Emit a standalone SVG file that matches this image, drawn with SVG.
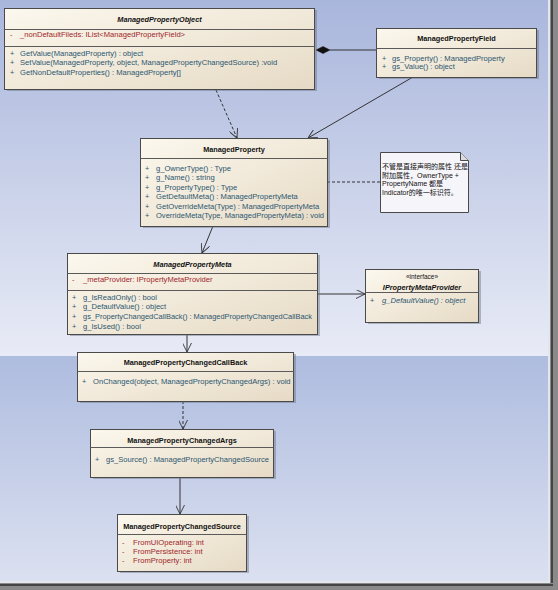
<svg xmlns="http://www.w3.org/2000/svg" width="558" height="590" viewBox="0 0 558 590">
<defs>
<linearGradient id="bgTop" x1="0" y1="0" x2="0" y2="1">
<stop offset="0" stop-color="#a9b6dc"/>
<stop offset="1" stop-color="#e8ebf6"/>
</linearGradient>
<linearGradient id="bgBot" x1="0" y1="0" x2="0" y2="1">
<stop offset="0" stop-color="#aebcdf"/>
<stop offset="1" stop-color="#dde2f1"/>
</linearGradient>
<linearGradient id="boxFill" x1="0" y1="0" x2="1" y2="1">
<stop offset="0" stop-color="#fcf8ee"/>
<stop offset="1" stop-color="#e6dac5"/>
</linearGradient>
<marker id="open" viewBox="0 0 10 10" refX="10" refY="5" markerWidth="9" markerHeight="9" orient="auto" markerUnits="userSpaceOnUse">
<path d="M0,0 L10,5 L0,10" fill="none" stroke="#333" stroke-width="1"/>
</marker>
<style>
.box{fill:url(#boxFill);stroke:#4a4a4a;stroke-width:1}
.shadow{fill:#6b7080;opacity:0.45}
.div{stroke:#5a5a5a;stroke-width:1}
.title{font-family:"Liberation Sans",Arial,sans-serif;font-size:7.3px;font-weight:bold;fill:#111;text-anchor:middle}
.ti{font-style:italic}
.mem{font-family:"Liberation Sans",Arial,sans-serif;font-size:7.6px;fill:#2a5670}
.attr{font-family:"Liberation Sans",Arial,sans-serif;font-size:7.6px;fill:#a0262a}
.vis{font-family:"Liberation Sans",Arial,sans-serif;font-size:7.3px;fill:#2a5670}
.visr{font-family:"Liberation Sans",Arial,sans-serif;font-size:7.3px;fill:#a0262a}
.ster{font-family:"Liberation Sans",Arial,sans-serif;font-size:6.5px;fill:#111;text-anchor:middle}
.note{font-family:"Liberation Sans","Noto Sans CJK SC",sans-serif;font-size:7px;fill:#111}
.line{stroke:#333;stroke-width:1;fill:none}
.dash{stroke:#333;stroke-width:1;fill:none;stroke-dasharray:3,2}
</style>
</defs>

<!-- background -->
<rect x="0" y="0" width="558" height="356" fill="url(#bgTop)"/>
<rect x="0" y="356" width="558" height="234" fill="url(#bgBot)"/>
<!-- frame shadow -->
<rect x="548" y="0" width="2" height="585" fill="#e4e6ee"/>
<rect x="550" y="0" width="8" height="590" fill="#8a8a8a"/>
<rect x="551" y="0" width="2" height="586" fill="#444"/>
<rect x="0" y="581" width="550" height="2" fill="#e4e6ee"/>
<rect x="0" y="583" width="558" height="7" fill="#8a8a8a"/>
<rect x="0" y="584" width="553" height="2" fill="#444"/>

<g id="connectors">
<!-- composition Object - Field -->
<line class="line" x1="330" y1="50" x2="376" y2="50"/>
<path d="M316,50 L323,46.5 L330,50 L323,53.5 Z" fill="#111" stroke="#111" stroke-width="0.5"/>
<!-- Field -> ManagedProperty -->
<line class="line" x1="413" y1="77" x2="308" y2="138" marker-end="url(#open)"/>
<!-- Object ..> ManagedProperty -->
<line class="dash" x1="216" y1="90" x2="237" y2="138" marker-end="url(#open)"/>
<!-- ManagedProperty .. note -->
<line class="dash" x1="327" y1="182" x2="380" y2="182"/>
<!-- ManagedProperty -> Meta -->
<line class="line" x1="213" y1="226" x2="202" y2="253" marker-end="url(#open)"/>
<!-- Meta -> IPropertyMetaProvider -->
<line class="line" x1="317" y1="294" x2="365" y2="294" marker-end="url(#open)"/>
<!-- Meta -> CallBack -->
<line class="line" x1="187" y1="334" x2="187" y2="352" marker-end="url(#open)"/>
<!-- CallBack ..> Args -->
<line class="dash" x1="183" y1="401" x2="183" y2="429" marker-end="url(#open)"/>
<!-- Args -> Source -->
<line class="line" x1="180" y1="478" x2="180" y2="514" marker-end="url(#open)"/>
</g>

<g id="ManagedPropertyObject">
<rect class="shadow" x="7" y="10" width="310" height="81"/>
<rect class="box" x="4.5" y="8.5" width="310" height="81"/>
<line class="div" x1="4.5" y1="29.5" x2="314.5" y2="29.5"/>
<line class="div" x1="4.5" y1="46.5" x2="314.5" y2="46.5"/>
<text class="title ti" x="159.5" y="22">ManagedPropertyObject</text>
<text class="visr" x="10" y="37">-</text>
<text class="attr" x="20" y="37">_nonDefaultFileds: IList&lt;ManagedPropertyField&gt;</text>
<text class="vis" x="10" y="56">+</text>
<text class="mem" x="20" y="56">GetValue(ManagedProperty) : object</text>
<text class="vis" x="10" y="65">+</text>
<text class="mem" x="20" y="65">SetValue(ManagedProperty, object, ManagedPropertyChangedSource) :void</text>
<text class="vis" x="10" y="74.5">+</text>
<text class="mem" x="20" y="74.5">GetNonDefaultProperties() : ManagedProperty[]</text>
</g>

<g id="ManagedPropertyField">
<rect class="shadow" x="379" y="30" width="160" height="49"/>
<rect class="box" x="376.5" y="28.5" width="160" height="49"/>
<line class="div" x1="376.5" y1="48.5" x2="536.5" y2="48.5"/>
<text class="title" x="456.5" y="41">ManagedPropertyField</text>
<text class="vis" x="382" y="60.5">+</text>
<text class="mem" x="392" y="60.5">gs_Property() : ManagedProperty</text>
<text class="vis" x="382" y="69">+</text>
<text class="mem" x="392" y="69">gs_Value() : object</text>
</g>

<g id="ManagedProperty">
<rect class="shadow" x="143" y="140" width="187" height="88"/>
<rect class="box" x="140.5" y="138.5" width="187" height="88"/>
<line class="div" x1="140.5" y1="158.5" x2="327.5" y2="158.5"/>
<text class="title" x="234" y="151.5">ManagedProperty</text>
<text class="vis" x="145" y="170.5">+</text>
<text class="mem" x="156" y="170.5">g_OwnerType() : Type</text>
<text class="vis" x="145" y="180">+</text>
<text class="mem" x="156" y="180">g_Name() : string</text>
<text class="vis" x="145" y="189.5">+</text>
<text class="mem" x="156" y="189.5">g_PropertyType() : Type</text>
<text class="vis" x="145" y="199">+</text>
<text class="mem" x="156" y="199">GetDefaultMeta() : ManagedPropertyMeta</text>
<text class="vis" x="145" y="208.5">+</text>
<text class="mem" x="156" y="208.5">GetOverrideMeta(Type) : ManagedPropertyMeta</text>
<text class="vis" x="145" y="218">+</text>
<text class="mem" x="156" y="218" textLength="168" lengthAdjust="spacingAndGlyphs">OverrideMeta(Type, ManagedPropertyMeta) : void</text>
</g>

<g id="Note">
<path d="M380.5,152.5 L460.5,152.5 L468.5,160.5 L468.5,212.5 L380.5,212.5 Z" fill="#f6f5f9" stroke="#4a4a4a" stroke-width="1"/>
<path d="M460.5,152.5 L460.5,160.5 L468.5,160.5" fill="#dcdbe0" stroke="#4a4a4a" stroke-width="1"/>
<text class="note" x="382" y="168.5">不管是直接声明的属性 还是</text>
<text class="note" x="382" y="177.5">附加属性，OwnerType +</text>
<text class="note" x="382" y="186">PropertyName 都是</text>
<text class="note" x="382" y="194.5">Indicator的唯一标识符。</text>
</g>

<g id="ManagedPropertyMeta">
<rect class="shadow" x="70" y="255" width="250" height="81"/>
<rect class="box" x="67.5" y="253.5" width="250" height="81"/>
<line class="div" x1="67.5" y1="273.5" x2="317.5" y2="273.5"/>
<line class="div" x1="67.5" y1="290.5" x2="317.5" y2="290.5"/>
<text class="title ti" x="192.5" y="266.5">ManagedPropertyMeta</text>
<text class="visr" x="72" y="281.5">-</text>
<text class="attr" x="83" y="281.5">_metaProvider: IPropertyMetaProvider</text>
<text class="vis" x="72" y="299.5">+</text>
<text class="mem" x="83" y="299.5">g_IsReadOnly() : bool</text>
<text class="vis" x="72" y="309">+</text>
<text class="mem" x="83" y="309">g_DefaultValue() : object</text>
<text class="vis" x="72" y="319">+</text>
<text class="mem" x="83" y="319" textLength="229" lengthAdjust="spacingAndGlyphs">gs_PropertyChangedCallBack() : ManagedPropertyChangedCallBack</text>
<text class="vis" x="72" y="328.5">+</text>
<text class="mem" x="83" y="328.5">g_IsUsed() : bool</text>
</g>

<g id="IPropertyMetaProvider">
<rect class="shadow" x="368" y="271" width="113" height="53"/>
<rect class="box" x="365.5" y="269.5" width="113" height="53"/>
<line class="div" x1="365.5" y1="292.5" x2="478.5" y2="292.5"/>
<text class="ster" x="422" y="279">«interface»</text>
<text class="title ti" x="422" y="289.5">IPropertyMetaProvider</text>
<text class="vis" x="370" y="302.5">+</text>
<text class="mem ti" x="382" y="302.5">g_DefaultValue() : object</text>
</g>

<g id="ManagedPropertyChangedCallBack">
<rect class="shadow" x="80" y="354" width="216" height="49"/>
<rect class="box" x="77.5" y="352.5" width="216" height="49"/>
<line class="div" x1="77.5" y1="371.5" x2="293.5" y2="371.5"/>
<text class="title" x="185.5" y="364.5">ManagedPropertyChangedCallBack</text>
<text class="vis" x="82" y="383.5">+</text>
<text class="mem" x="93" y="383.5">OnChanged(object, ManagedPropertyChangedArgs) : void</text>
</g>

<g id="ManagedPropertyChangedArgs">
<rect class="shadow" x="93" y="431" width="183" height="48"/>
<rect class="box" x="90.5" y="429.5" width="183" height="48"/>
<line class="div" x1="90.5" y1="447.5" x2="273.5" y2="447.5"/>
<text class="title" x="182" y="442.5">ManagedPropertyChangedArgs</text>
<text class="vis" x="95" y="461.5">+</text>
<text class="mem" x="106" y="461.5">gs_Source() : ManagedPropertyChangedSource</text>
</g>

<g id="ManagedPropertyChangedSource">
<rect class="shadow" x="120" y="516" width="129" height="57"/>
<rect class="box" x="117.5" y="514.5" width="129" height="57"/>
<line class="div" x1="117.5" y1="534.5" x2="246.5" y2="534.5"/>
<text class="title" x="182" y="528.5">ManagedPropertyChangedSource</text>
<text class="visr" x="122" y="544.5">-</text>
<text class="attr" x="133" y="544.5">FromUIOperating: int</text>
<text class="visr" x="122" y="553.5">-</text>
<text class="attr" x="133" y="553.5">FromPersistence: int</text>
<text class="visr" x="122" y="562.5">-</text>
<text class="attr" x="133" y="562.5">FromProperty: int</text>
</g>
</svg>
